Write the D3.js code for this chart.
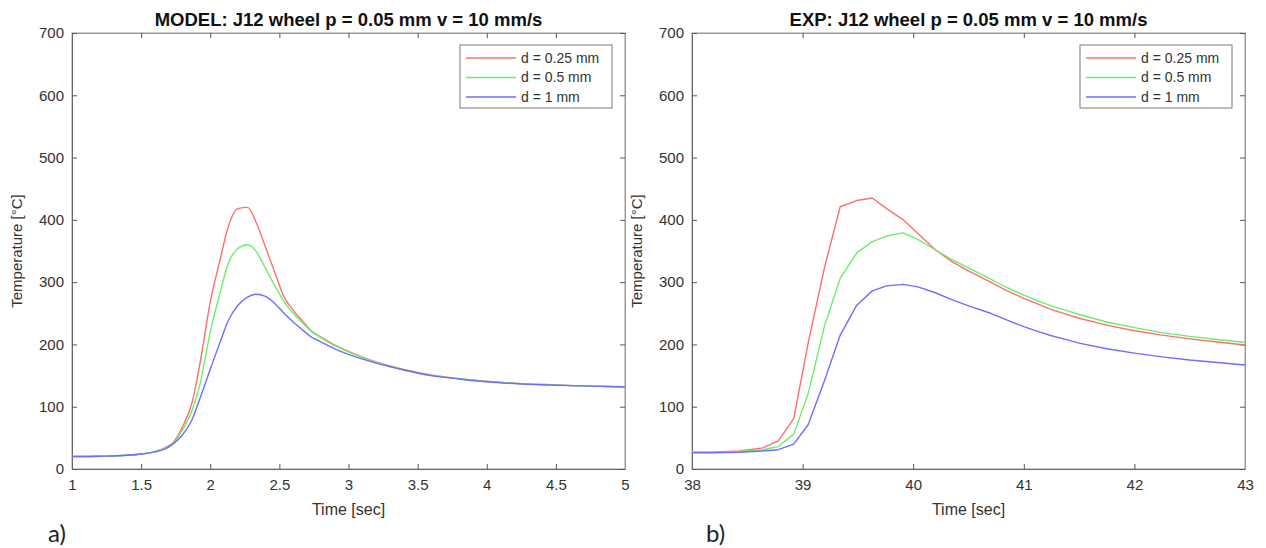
<!DOCTYPE html>
<html><head><meta charset="utf-8">
<script src="https://cdn.jsdelivr.net/npm/d3@7"></script>
<style>
body{margin:0;background:#fff;}
svg text{font-family:"Liberation Sans",Arial,Helvetica,sans-serif;}
</style></head><body>
<svg id="chart" width="1266" height="548"></svg>
<script>
// ---------- DATA ----------
const seriesNames = ["d = 0.25 mm", "d = 0.5 mm", "d = 1 mm"];
const seriesColors = ["#ff6e6e", "#6cee6c", "#6e6eff"];

// Panel a) MODEL
const modelTime = [1.0,1.2,1.4,1.5,1.6,1.67,1.73,1.8,1.87,1.93,2.0,2.07,2.13,2.2,2.27,2.33,2.4,2.47,2.53,2.6,2.67,2.73,2.8,2.9,3.0,3.2,3.4,3.6,3.8,4.0,4.25,4.5,4.75,5.0];
const modelD025 = [20,20.5,22,24,28,34,42,68,108,175,268,335,389,418,420,397,356,314,278,255,237,222,212,199,189,172,160,151,145,141,137,135,133,132];
const modelD05  = [20,20.5,22,24,28,33,41,63,95,140,220,282,330,354,360,350,322,293,270,250,234,221,211,198,188,171,159,150,145,140.5,137,135,133,132];
const modelD1   = [20,20.5,22,24,27.5,32,40,55,80,116,160,203,238,263,276,280.5,277,265,251,236,223,212,204,193,184,170,159,150,144.5,140,136.5,134.5,133,131.5];

// Panel b) EXP
const expTime = [38.0,38.2,38.43,38.64,38.78,38.92,39.05,39.2,39.34,39.49,39.63,39.76,39.91,40.05,40.2,40.35,40.5,40.7,40.85,41.0,41.125,41.25,41.375,41.5,41.75,42.0,42.25,42.5,42.75,43.0];
const expD025 = [27,27.5,29,34,45,81,202,325,421,431,435,418,400,377,352,333,318,300,286,274,265,256,249,242,231,222,215,209,204,199];
const expD05  = [27,27,28,31,36,56,121,231,306,347,365,374,379,368,352,336,323,305,291,279,270,262,255,248,236,227,219,213,208,203];
const expD1   = [26,26,27,29,31,40,71,143,215,263,286,294,296.5,292,283,272,262,250,239,228.5,221,214,208,202,193,186,180,175,171,167];

const yTicks = [0,100,200,300,400,500,600,700];
const modelXTicks = [1,1.5,2,2.5,3,3.5,4,4.5,5];
const expXTicks = [38,39,40,41,42,43];

const panels = [
  {title:"MODEL: J12 wheel p = 0.05 mm v = 10 mm/s", tag:"a)", time:modelTime, series:[modelD025,modelD05,modelD1],
   xDomain:[1,5], xTicks:modelXTicks, left:72, right:625, tagX:48, curve:d3.curveMonotoneX},
  {title:"EXP: J12 wheel p = 0.05 mm v = 10 mm/s", tag:"b)", time:expTime, series:[expD025,expD05,expD1],
   xDomain:[38,43], xTicks:expXTicks, left:692, right:1245, tagX:706, curve:d3.curveLinear}
];

// ---------- DRAW ----------
const svg = d3.select("#chart");
const plotTop = 33, plotBottom = 469;
const boxCol = "#9a9a9a", textCol = "#333";

panels.forEach(p => {
  const x = d3.scaleLinear().domain(p.xDomain).range([p.left, p.right]);
  const y = d3.scaleLinear().domain([0,700]).range([plotBottom, plotTop]);
  const g = svg.append("g");

  g.append("rect").attr("x",p.left).attr("y",plotTop).attr("width",p.right-p.left).attr("height",plotBottom-plotTop)
    .attr("fill","none").attr("stroke",boxCol).attr("stroke-width",1);

  const fmt = d => String(d);
  const xa = g.append("g").attr("transform",`translate(0,${plotBottom})`)
    .call(d3.axisBottom(x).tickValues(p.xTicks).tickSize(-5).tickPadding(10).tickFormat(fmt));
  const xt = g.append("g").attr("transform",`translate(0,${plotTop})`)
    .call(d3.axisTop(x).tickValues(p.xTicks).tickSize(-5).tickFormat(""));
  const ya = g.append("g").attr("transform",`translate(${p.left},0)`)
    .call(d3.axisLeft(y).tickValues(yTicks).tickSize(-5).tickPadding(8).tickFormat(fmt));
  const yr = g.append("g").attr("transform",`translate(${p.right},0)`)
    .call(d3.axisRight(y).tickValues(yTicks).tickSize(-5).tickFormat(""));
  [xa,xt,ya,yr].forEach(a=>{
    a.select(".domain").attr("stroke",boxCol);
    a.selectAll(".tick line").attr("stroke","#555");
    a.selectAll("text").attr("fill",textCol).style("font-size","15px");
  });
  xa.select(".domain").attr("stroke","#666");
  ya.select(".domain").attr("stroke","#666");

  const line = d3.line().curve(p.curve).x((d,i)=>x(p.time[i])).y(d=>y(d));
  p.series.forEach((s,k)=>{
    g.append("path").datum(s).attr("d",line).attr("fill","none")
      .attr("stroke",seriesColors[k]).attr("stroke-width",1.4).attr("stroke-linejoin","round");
  });

  g.append("text").attr("x",(p.left+p.right)/2).attr("y",26).attr("text-anchor","middle")
    .style("font-size","18.5px").style("font-weight","bold").attr("fill","#111").text(p.title);
  g.append("text").attr("x",(p.left+p.right)/2).attr("y",515).attr("text-anchor","middle")
    .style("font-size","16px").attr("fill",textCol).text("Time [sec]");
  g.append("text").attr("transform",`translate(${p.left-50},${(plotTop+plotBottom)/2}) rotate(-90)`)
    .attr("text-anchor","middle").style("font-size","15px").attr("fill",textCol).text("Temperature [°C]");
  g.append("text").attr("x",p.tagX).attr("y",542).style("font-size","24px")
    .style("font-family","Lato, 'Open Sans', sans-serif").attr("fill","#222").text(p.tag);

  const lx = p.right-165, ly = 45;
  const lg = g.append("g").attr("transform",`translate(${lx},${ly})`);
  lg.append("rect").attr("x",0).attr("y",0).attr("width",152).attr("height",63)
    .attr("fill","#fff").attr("stroke","#7a7a7a").attr("stroke-width",1);
  seriesNames.forEach((n,k)=>{
    const yy = 13 + k*19.5;
    lg.append("line").attr("x1",6).attr("x2",56).attr("y1",yy).attr("y2",yy)
      .attr("stroke",seriesColors[k]).attr("stroke-width",1.4);
    lg.append("text").attr("x",61).attr("y",yy).attr("dy","0.35em").style("font-size","14px")
      .attr("fill",textCol).text(n);
  });
});
</script></body></html>
